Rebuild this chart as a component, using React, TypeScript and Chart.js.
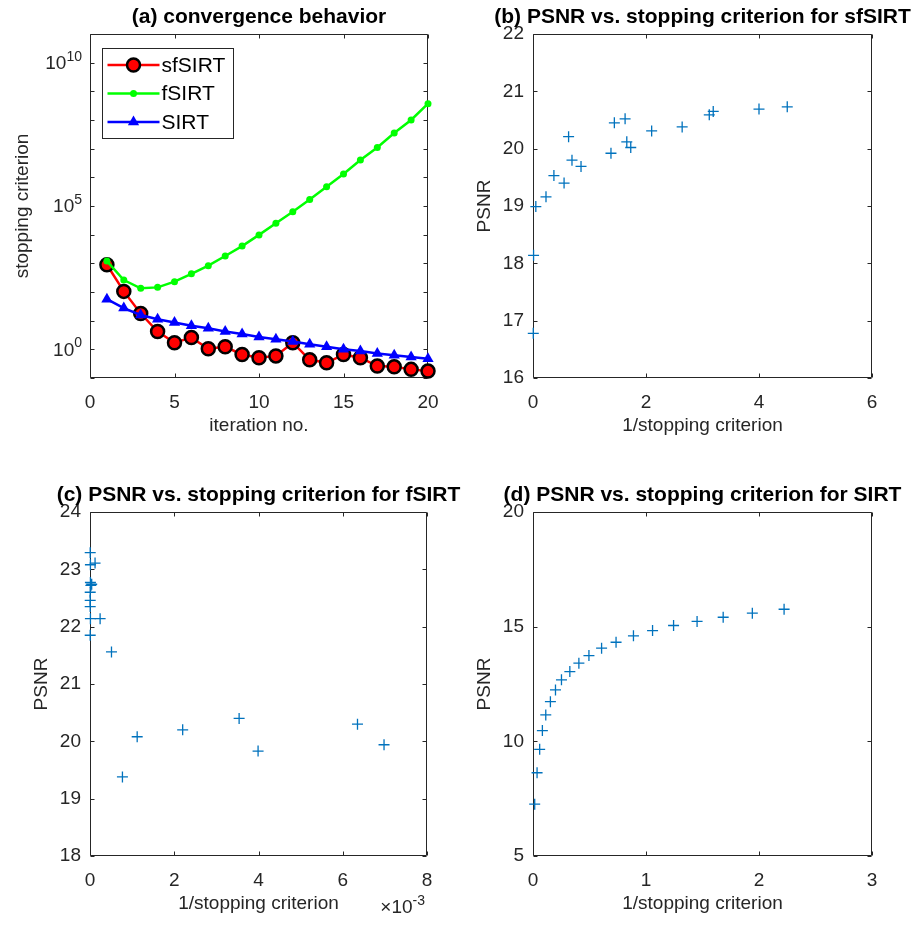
import React, { useEffect, useRef } from 'react';
import { Chart, registerables } from 'chart.js';

Chart.register(...registerables);

// ---------- data ----------
const iterations = [1, 2, 3, 4, 5, 6, 7, 8, 9, 10, 11, 12, 13, 14, 15, 16, 17, 18, 19, 20];
const sfSIRTCriterion = [891, 105, 17.8, 4.17, 1.7, 2.57, 1.05, 1.23, 0.66, 0.51, 0.59, 1.7, 0.43, 0.34, 0.66, 0.51, 0.26, 0.245, 0.2, 0.174];
const fSIRTCriterion = [1.2e3, 2.6e2, 1.35e2, 1.45e2, 2.3e2, 4.3e2, 8.3e2, 1.8e3, 4.0e3, 9.8e3, 2.5e4, 6.3e4, 1.7e5, 4.7e5, 1.3e6, 4.0e6, 1.1e7, 3.5e7, 1.0e8, 3.7e8];
const SIRTCriterion = [56, 27.5, 15.8, 11.2, 8.7, 6.6, 5.4, 4.2, 3.4, 2.7, 2.24, 1.86, 1.51, 1.23, 1.0, 0.87, 0.72, 0.62, 0.54, 0.47];

const sfSIRTInv = [0.005, 0.01, 0.05, 0.23, 0.37, 0.55, 0.63, 0.69, 0.85, 1.38, 1.44, 1.63, 1.66, 1.73, 2.1, 2.64, 3.12, 3.19, 4.0, 4.5];
const sfSIRTPSNR = [16.78, 18.14, 18.99, 19.16, 19.53, 19.4, 20.21, 19.8, 19.69, 19.92, 20.45, 20.52, 20.12, 20.02, 20.31, 20.38, 20.59, 20.65, 20.69, 20.73];

// 1/stopping criterion for fSIRT, in units of 10^-3
const fSIRTInvE3 = [0.005, 0.01, 0.12, 0.01, 0.04, 0.02, 0.005, 0.005, 0.005, 0.01, 0.24, 0.005, 0.51, 1.12, 0.77, 2.2, 3.54, 3.99, 6.35, 6.98];
const fSIRTPSNR = [23.29, 23.08, 23.11, 22.77, 22.74, 22.72, 22.6, 22.46, 22.35, 22.14, 22.14, 21.85, 21.56, 20.08, 19.38, 20.2, 20.4, 19.83, 20.3, 19.94];

const SIRTInv = [0.015, 0.036, 0.059, 0.083, 0.113, 0.154, 0.199, 0.252, 0.326, 0.406, 0.495, 0.607, 0.735, 0.889, 1.058, 1.244, 1.452, 1.683, 1.941, 2.222];
const SIRTPSNR = [7.26, 8.63, 9.65, 10.47, 11.15, 11.73, 12.24, 12.68, 13.04, 13.41, 13.74, 14.06, 14.32, 14.6, 14.83, 15.05, 15.23, 15.41, 15.59, 15.76];

const titles = [
  '(a) convergence behavior',
  '(b) PSNR vs. stopping criterion for sfSIRT',
  '(c) PSNR vs. stopping criterion for fSIRT',
  '(d) PSNR vs. stopping criterion for SIRT',
];

// ---------- styling ----------
const FONT = '"Liberation Sans", Arial, Helvetica, sans-serif';
const TEXT = '#262626';
const AXIS = '#262626';
const BLUE = '#0072BD';
const CH = 465;
const LEFT_CW = 500;
const RIGHT_CW = 457;
const FS = 19;
const TICK_FONT = { family: FONT, size: FS };

type Box = { left: number; right: number; top: number; bottom: number; cw: number };

function drawMarker(ctx: CanvasRenderingContext2D, style: string, x: number, y: number, r: number, fill: string, stroke: string, bw: number) {
  ctx.beginPath();
  if (style === 'triangle') {
    let rad = 0;
    ctx.moveTo(x + Math.sin(rad) * r, y - Math.cos(rad) * r);
    rad += (2 * Math.PI) / 3;
    ctx.lineTo(x + Math.sin(rad) * r, y - Math.cos(rad) * r);
    rad += (2 * Math.PI) / 3;
    ctx.lineTo(x + Math.sin(rad) * r, y - Math.cos(rad) * r);
    ctx.closePath();
  } else {
    ctx.arc(x, y, r, 0, Math.PI * 2);
  }
  ctx.fillStyle = fill;
  ctx.fill();
  if (bw > 0) {
    ctx.lineWidth = bw;
    ctx.strokeStyle = stroke;
    ctx.stroke();
  }
}

const matlabAxes = {
  id: 'matlabAxes',
  beforeDatasetsDraw(chart: any) {
    const { ctx, chartArea } = chart;
    const xs = chart.scales.x;
    const ys = chart.scales.y;
    const L = Math.round(chartArea.left) + 0.5;
    const R = Math.round(chartArea.right) - 0.5;
    const T = Math.round(chartArea.top) + 0.5;
    const B = Math.round(chartArea.bottom) - 0.5;
    const len = 4;
    ctx.save();
    ctx.strokeStyle = AXIS;
    ctx.lineWidth = 1;
    ctx.beginPath();
    ctx.rect(L, T, R - L, B - T);
    xs.ticks.forEach((t: any) => {
      const p = Math.round(xs.getPixelForValue(t.value)) + 0.5;
      ctx.moveTo(p, B);
      ctx.lineTo(p, B - len);
      ctx.moveTo(p, T);
      ctx.lineTo(p, T + len);
    });
    ys.ticks.forEach((t: any) => {
      const p = Math.round(ys.getPixelForValue(t.value)) + 0.5;
      ctx.moveTo(L, p);
      ctx.lineTo(L + len, p);
      ctx.moveTo(R, p);
      ctx.lineTo(R - len, p);
    });
    ctx.stroke();
    ctx.restore();
  },
  afterDatasetsDraw(chart: any, _a: any, opts: any) {
    if (!opts.legend) return;
    const { ctx, chartArea } = chart;
    const bx = Math.round(chartArea.left) + 12.5;
    const by = Math.round(chartArea.top) + 14.5;
    const bw = 131;
    const bh = 90;
    ctx.save();
    ctx.fillStyle = '#fff';
    ctx.fillRect(bx, by, bw, bh);
    ctx.strokeStyle = AXIS;
    ctx.lineWidth = 1;
    ctx.strokeRect(bx, by, bw, bh);
    chart.data.datasets.forEach((ds: any, i: number) => {
      const cy = by + 16.5 + i * 28.5;
      ctx.beginPath();
      ctx.moveTo(bx + 5, cy);
      ctx.lineTo(bx + 57, cy);
      ctx.strokeStyle = ds.borderColor;
      ctx.lineWidth = ds.borderWidth;
      ctx.stroke();
      drawMarker(ctx, ds.pointStyle, bx + 31, cy, ds.pointRadius, ds.pointBackgroundColor, ds.pointBorderColor, ds.pointBorderWidth);
      ctx.fillStyle = '#000';
      ctx.font = `21px ${FONT}`;
      ctx.textAlign = 'left';
      ctx.textBaseline = 'middle';
      ctx.fillText(ds.label, bx + 59, cy + 1);
    });
    ctx.restore();
  },
  afterDraw(chart: any, _a: any, opts: any) {
    const { ctx, chartArea } = chart;
    ctx.save();
    ctx.fillStyle = '#000';
    ctx.font = `bold 21px ${FONT}`;
    ctx.textAlign = 'center';
    ctx.textBaseline = 'middle';
    ctx.fillText(opts.title, (chartArea.left + chartArea.right) / 2, chartArea.top - 17);

    if (opts.logLabels) {
      const ys = chart.scales.y;
      ys.ticks.forEach((t: any) => {
        const e = Math.round(Math.log10(t.value));
        if (e % 5 !== 0) return;
        const py = ys.getPixelForValue(t.value);
        ctx.font = `14px ${FONT}`;
        const expW = ctx.measureText(String(e)).width;
        ctx.font = `${FS}px ${FONT}`;
        const baseW = ctx.measureText('10').width;
        const x0 = chartArea.left - 8 - expW - baseW;
        ctx.fillStyle = TEXT;
        ctx.textAlign = 'left';
        ctx.fillText('10', x0, py + 1);
        ctx.font = `14px ${FONT}`;
        ctx.fillText(String(e), x0 + baseW, py - 6);
      });
    }
    if (opts.xExponent) {
      ctx.fillStyle = TEXT;
      ctx.textAlign = 'left';
      ctx.font = `14px ${FONT}`;
      const expW = ctx.measureText(opts.xExponent).width;
      ctx.font = `${FS}px ${FONT}`;
      const baseW = ctx.measureText('\u00d710').width;
      const x0 = chartArea.right - 2 - expW - baseW;
      ctx.fillText('\u00d710', x0, chartArea.bottom + 52);
      ctx.font = `14px ${FONT}`;
      ctx.fillText(opts.xExponent, x0 + baseW, chartArea.bottom + 45);
    }
    ctx.restore();
  },
};

function makeOptions(o: {
  box: Box;
  x: any;
  y: any;
  xTitle: string;
  yTitle: string;
  yTitleCenter: number;
  plugin: any;
}) {
  const { box } = o;
  const lh = FS * 1.2;
  return {
    responsive: false,
    animation: false,
    devicePixelRatio: 1,
    events: [],
    layout: { padding: { left: 0, right: box.cw - box.right, top: box.top, bottom: 0 } },
    plugins: {
      legend: { display: false },
      tooltip: { enabled: false },
      title: { display: false },
      matlabAxes: o.plugin,
    },
    scales: {
      x: {
        ...o.x,
        position: 'bottom',
        grid: { display: false, drawTicks: false },
        border: { display: false },
        ticks: { ...(o.x.ticks || {}), color: TEXT, font: TICK_FONT, padding: 13.5, maxRotation: 0, autoSkip: false },
        title: {
          display: true,
          text: o.xTitle,
          color: TEXT,
          font: TICK_FONT,
          padding: { top: 0, bottom: CH - (box.bottom + 48) - lh / 2 },
        },
        afterFit: (s: any) => {
          s.height = CH - box.bottom;
        },
      },
      y: {
        ...o.y,
        position: 'left',
        grid: { display: false, drawTicks: false },
        border: { display: false },
        ticks: { ...(o.y.ticks || {}), color: TEXT, font: TICK_FONT, padding: 9, autoSkip: false },
        title: {
          display: true,
          text: o.yTitle,
          color: TEXT,
          font: TICK_FONT,
          padding: { top: o.yTitleCenter - lh / 2, bottom: 0 },
        },
        afterFit: (s: any) => {
          s.width = box.left;
        },
      },
    },
  };
}

function scatterDataset(xs: number[], ys: number[]) {
  return {
    label: 'PSNR',
    data: xs.map((x, i) => ({ x, y: ys[i] })),
    pointStyle: 'cross',
    pointRadius: 5.5,
    pointBorderWidth: 1.3,
    pointBorderColor: BLUE,
    pointBackgroundColor: BLUE,
    borderColor: BLUE,
    clip: false,
  };
}

const boxA: Box = { left: 90, right: 428, top: 34, bottom: 378, cw: LEFT_CW };
const boxB: Box = { left: 76, right: 415, top: 34, bottom: 378, cw: RIGHT_CW };
const boxC: Box = { left: 90, right: 427, top: 47, bottom: 391, cw: LEFT_CW };
const boxD: Box = { left: 76, right: 415, top: 47, bottom: 391, cw: RIGHT_CW };

function configA() {
  return {
    type: 'line',
    data: {
      datasets: [
        {
          label: 'sfSIRT',
          data: iterations.map((x, i) => ({ x, y: sfSIRTCriterion[i] })),
          borderColor: '#ff0000',
          borderWidth: 2.5,
          pointStyle: 'circle',
          pointRadius: 6.5,
          pointBackgroundColor: '#ff0000',
          pointBorderColor: '#000000',
          pointBorderWidth: 2.5,
          order: 3,
          clip: false,
        },
        {
          label: 'fSIRT',
          data: iterations.map((x, i) => ({ x, y: fSIRTCriterion[i] })),
          borderColor: '#00ff00',
          borderWidth: 2.5,
          pointStyle: 'circle',
          pointRadius: 3.5,
          pointBackgroundColor: '#00ff00',
          pointBorderColor: '#00ff00',
          pointBorderWidth: 0,
          order: 2,
          clip: false,
        },
        {
          label: 'SIRT',
          data: iterations.map((x, i) => ({ x, y: SIRTCriterion[i] })),
          borderColor: '#0000ff',
          borderWidth: 2.5,
          pointStyle: 'triangle',
          pointRadius: 6.5,
          pointBackgroundColor: '#0000ff',
          pointBorderColor: '#0000ff',
          pointBorderWidth: 0,
          order: 1,
          clip: false,
        },
      ],
    },
    options: makeOptions({
      box: boxA,
      x: { type: 'linear', min: 0, max: 20, ticks: { stepSize: 5 } },
      y: {
        type: 'logarithmic',
        min: 1e-1,
        max: 1e11,
        ticks: { display: false },
        afterBuildTicks: (s: any) => {
          const t = [];
          for (let e = -1; e <= 11; e++) t.push({ value: Math.pow(10, e) });
          s.ticks = t;
        },
      },
      xTitle: 'iteration no.',
      yTitle: 'stopping criterion',
      yTitleCenter: 23,
      plugin: { title: titles[0], logLabels: true, legend: true },
    }),
    plugins: [matlabAxes],
  };
}

function configB() {
  return {
    type: 'scatter',
    data: { datasets: [scatterDataset(sfSIRTInv, sfSIRTPSNR)] },
    options: makeOptions({
      box: boxB,
      x: { type: 'linear', min: 0, max: 6, ticks: { stepSize: 2 } },
      y: { type: 'linear', min: 16, max: 22, ticks: { stepSize: 1 } },
      xTitle: '1/stopping criterion',
      yTitle: 'PSNR',
      yTitleCenter: 28,
      plugin: { title: titles[1] },
    }),
    plugins: [matlabAxes],
  };
}

function configC() {
  return {
    type: 'scatter',
    data: { datasets: [scatterDataset(fSIRTInvE3, fSIRTPSNR)] },
    options: makeOptions({
      box: boxC,
      x: { type: 'linear', min: 0, max: 8, ticks: { stepSize: 2 } },
      y: { type: 'linear', min: 18, max: 24, ticks: { stepSize: 1 } },
      xTitle: '1/stopping criterion',
      yTitle: 'PSNR',
      yTitleCenter: 42,
      plugin: { title: titles[2], xExponent: '-3' },
    }),
    plugins: [matlabAxes],
  };
}

function configD() {
  return {
    type: 'scatter',
    data: { datasets: [scatterDataset(SIRTInv, SIRTPSNR)] },
    options: makeOptions({
      box: boxD,
      x: { type: 'linear', min: 0, max: 3, ticks: { stepSize: 1 } },
      y: { type: 'linear', min: 5, max: 20, ticks: { stepSize: 5 } },
      xTitle: '1/stopping criterion',
      yTitle: 'PSNR',
      yTitleCenter: 28,
      plugin: { title: titles[3] },
    }),
    plugins: [matlabAxes],
  };
}

function Panel({ make, left, top, cw }: { make: () => any; left: number; top: number; cw: number }) {
  const ref = useRef<HTMLCanvasElement>(null);
  useEffect(() => {
    const chart = new Chart(ref.current as HTMLCanvasElement, make());
    return () => chart.destroy();
  }, []);
  return (
    <canvas
      ref={ref}
      width={cw}
      height={CH}
      style={{ position: 'absolute', left, top, width: cw, height: CH }}
    />
  );
}

export default function App() {
  return (
    <div style={{ position: 'absolute', left: 0, top: 0, width: 914, height: 930, background: '#ffffff', overflow: 'hidden' }}>
      <Panel make={configA} left={0} top={0} cw={LEFT_CW} />
      <Panel make={configB} left={457} top={0} cw={RIGHT_CW} />
      <Panel make={configC} left={0} top={CH} cw={LEFT_CW} />
      <Panel make={configD} left={457} top={CH} cw={RIGHT_CW} />
    </div>
  );
}
